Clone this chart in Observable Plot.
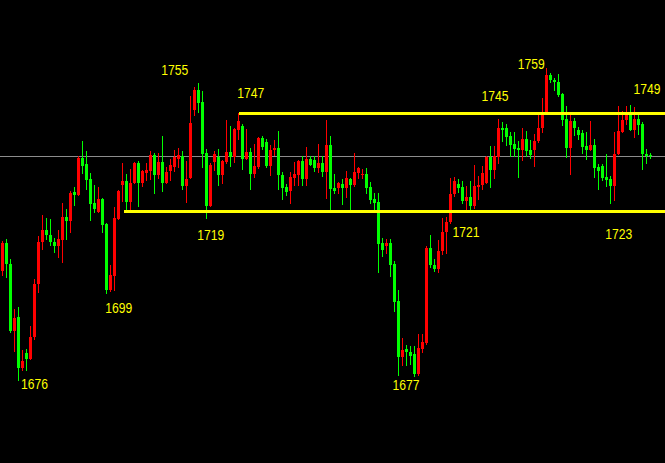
<!DOCTYPE html>
<html>
<head>
<meta charset="utf-8">
<script src="https://cdn.jsdelivr.net/npm/d3@7"></script>
<script src="https://cdn.jsdelivr.net/npm/@observablehq/plot@0.6"></script>
<style>
html, body { margin: 0; padding: 0; background: #000; overflow: hidden; }
#chart svg { display: block; }
</style>
</head>
<body>
<div id="chart"></div>
<script>
// OHLC values, one per candle (left to right)
const open = [1705.1,1712.6,1707.0,1689.2,1692.9,1679.4,1683.4,1681.8,1687.6,1701.7,
1712.9,1716.0,1714.7,1712.9,1711.8,1713.4,1719.5,1718.4,1726.1,1725.3,
1735.1,1733.5,1729.5,1723.2,1720.8,1724.2,1717.6,1700.1,1703.9,1719.0,
1728.0,1729.0,1723.5,1728.5,1733.8,1728.5,1731.1,1731.7,1735.9,1730.6,
1734.0,1728.5,1731.7,1732.7,1734.8,1735.6,1727.7,1729.8,1747.8,1753.1,
1749.9,1736.4,1722.4,1734.0,1735.4,1730.6,1734.0,1736.7,1735.4,1742.5,
1743.6,1734.8,1736.7,1730.9,1732.7,1740.4,1739.4,1733.0,1737.2,1737.8,
1730.6,1727.4,1726.4,1729.8,1730.6,1734.3,1729.5,1734.8,1734.6,1732.5,
1733.8,1731.4,1738.6,1727.2,1727.2,1728.2,1727.2,1729.5,1728.0,1731.1,
1730.6,1730.9,1727.4,1724.2,1723.5,1712.6,1711.8,1712.6,1707.0,1697.2,
1682.3,1684.4,1683.6,1683.1,1677.9,1684.4,1686.0,1711.2,1706.8,1705.7,
1710.5,1715.5,1718.1,1725.6,1728.2,1727.4,1723.7,1724.8,1722.4,1727.4,
1728.0,1728.5,1735.4,1731.9,1735.4,1743.1,1743.1,1741.0,1738.8,1737.8,
1737.2,1740.2,1737.2,1737.2,1739.6,1743.1,1747.1,1757.1,1755.8,1755.3,
1752.1,1745.5,1737.8,1744.9,1742.5,1741.8,1738.3,1737.2,1738.6,1732.7,
1733.0,1730.1,1729.5,1727.7,1736.2,1742.0,1745.2,1746.5,1742.5,1745.5,
1744.1,1736.2,1736.0];
const high = [1713.1,1713.6,1708.3,1695.0,1695.6,1684.2,1684.4,1690.5,1703.0,1714.4,
1720.0,1719.2,1718.9,1713.9,1716.0,1723.2,1721.6,1726.4,1727.4,1735.6,
1739.6,1737.0,1731.1,1728.0,1727.4,1724.5,1717.8,1706.7,1722.1,1726.6,
1733.8,1730.9,1732.2,1734.0,1734.3,1731.9,1733.8,1737.0,1736.4,1736.4,
1740.9,1732.7,1734.8,1737.2,1737.8,1737.0,1734.3,1751.5,1753.9,1755.0,
1752.9,1737.5,1733.8,1737.0,1737.5,1734.6,1745.2,1743.6,1743.1,1747.0,
1744.1,1742.8,1737.8,1738.8,1740.7,1740.9,1740.2,1738.6,1739.9,1742.3,
1731.4,1728.2,1731.4,1734.0,1734.6,1735.6,1738.0,1735.6,1735.6,1738.8,
1735.6,1745.2,1740.9,1730.9,1728.7,1729.5,1731.7,1729.8,1736.4,1732.7,
1732.2,1732.5,1728.7,1725.9,1725.9,1713.9,1713.6,1713.6,1707.8,1700.1,
1687.4,1685.5,1685.2,1685.2,1688.4,1688.4,1711.8,1714.7,1708.3,1713.4,
1719.2,1719.5,1729.8,1730.1,1729.5,1729.0,1727.7,1729.0,1733.2,1730.4,
1733.0,1735.6,1738.3,1738.3,1745.5,1744.6,1744.1,1742.0,1742.0,1739.6,
1743.1,1742.3,1739.9,1741.5,1746.5,1751.0,1759.0,1757.7,1756.3,1757.4,
1752.3,1748.9,1746.5,1745.7,1743.3,1742.5,1742.0,1744.9,1740.2,1733.5,
1733.5,1736.2,1730.4,1742.0,1748.9,1747.6,1748.9,1749.2,1748.6,1746.5,
1744.6,1737.5,1736.4];
const low = [1703.8,1703.3,1688.7,1683.6,1676.0,1678.6,1678.6,1681.6,1686.8,1699.3,
1710.7,1713.4,1711.8,1710.0,1708.6,1707.3,1713.4,1715.2,1722.4,1725.1,
1730.9,1726.6,1718.4,1720.5,1720.4,1715.2,1699.0,1699.6,1699.9,1718.7,
1723.5,1721.3,1721.3,1728.2,1722.1,1727.4,1729.0,1729.3,1725.6,1729.5,
1726.1,1728.2,1729.0,1731.4,1732.5,1726.6,1723.2,1729.5,1746.2,1747.0,
1732.5,1719.0,1722.2,1731.7,1727.7,1728.2,1733.5,1732.7,1733.8,1739.9,
1731.9,1734.6,1726.6,1729.8,1732.2,1737.2,1732.5,1730.4,1735.6,1726.6,
1724.0,1725.1,1722.9,1727.7,1727.7,1727.7,1727.7,1733.0,1731.4,1731.1,
1730.1,1724.2,1721.3,1725.6,1725.6,1722.7,1724.5,1721.3,1727.4,1729.5,
1729.5,1725.6,1722.9,1721.3,1704.6,1708.9,1709.6,1703.6,1694.3,1677.3,
1680.0,1680.0,1680.3,1677.0,1677.3,1683.4,1685.5,1705.9,1704.9,1704.6,
1709.4,1709.6,1717.6,1724.8,1725.9,1722.9,1721.3,1721.3,1721.6,1724.0,
1726.6,1728.3,1727.2,1729.5,1733.5,1739.4,1738.3,1735.4,1735.4,1729.8,
1734.3,1735.4,1734.8,1732.7,1739.1,1741.8,1746.9,1755.0,1752.9,1751.3,
1743.6,1735.1,1730.6,1740.9,1739.9,1736.2,1734.6,1737.0,1729.8,1726.6,
1729.0,1727.4,1723.0,1723.7,1736.0,1741.8,1743.9,1742.3,1740.4,1741.2,
1731.9,1733.5,1734.8];
const close = [1712.6,1707.0,1689.2,1692.7,1679.4,1681.3,1681.8,1687.6,1701.7,1712.9,
1716.0,1714.7,1712.9,1711.8,1713.6,1719.5,1718.4,1725.8,1725.3,1735.1,
1733.0,1729.3,1722.9,1721.6,1724.2,1717.4,1700.1,1704.1,1719.2,1726.4,
1729.0,1723.5,1728.5,1733.8,1728.5,1731.7,1731.9,1735.9,1730.6,1734.0,
1728.5,1731.4,1733.2,1735.4,1735.9,1727.7,1729.5,1744.4,1753.1,1749.7,
1736.2,1722.4,1733.2,1736.2,1730.6,1734.3,1736.7,1735.4,1742.8,1744.9,
1734.8,1736.7,1730.9,1733.0,1740.4,1738.0,1733.0,1737.2,1737.8,1730.6,
1727.2,1726.1,1730.1,1730.9,1734.3,1729.5,1734.8,1733.2,1732.5,1733.8,
1731.4,1738.6,1726.9,1726.4,1728.5,1727.2,1729.8,1728.0,1731.4,1732.5,
1730.9,1727.2,1724.0,1723.2,1712.3,1710.7,1712.6,1706.8,1696.9,1682.3,
1684.2,1683.6,1682.7,1677.9,1684.8,1686.3,1711.2,1706.8,1705.7,1710.5,
1715.5,1718.1,1725.6,1729.0,1727.2,1723.7,1724.8,1722.4,1727.7,1728.0,
1731.1,1735.4,1731.9,1735.6,1743.1,1742.5,1740.7,1738.6,1737.5,1737.2,
1740.2,1737.0,1735.9,1739.6,1743.1,1747.1,1757.1,1755.8,1755.3,1751.8,
1745.2,1737.8,1744.9,1743.1,1741.2,1738.0,1737.2,1738.6,1732.5,1731.7,
1729.8,1729.3,1727.7,1736.2,1742.3,1745.2,1746.5,1742.5,1745.5,1743.9,
1736.2,1735.6,1735.6];

// Horizontal support / resistance levels and the candle index where each starts
const levelPrices = [1747, 1721];
const levelStart = [59.2, 30.4];

// Price annotations: text, candle index and price level where each is placed
const labelTexts = ["1676", "1699", "1719", "1755", "1747", "1745", "1759", "1749", "1721", "1723", "1677"];
const labelIndex = [8.0, 29.05, 52.05, 43.05, 62.05, 123.1, 132.2, 161.1, 115.9, 154.05, 100.9];
const labelPrice = [1675.3, 1695.3, 1714.7, 1758.4, 1752.3, 1751.5, 1760.0, 1753.4, 1715.5, 1714.9, 1675.1];

const n = open.length;
const candles = d3.range(n).map(i => ({
  i, o: open[i], h: high[i], l: low[i], c: close[i], up: close[i] > open[i]
}));
const levels = levelPrices.map((p, k) => ({p, start: levelStart[k]}));
const labels = labelTexts.map((t, k) => ({t, i: labelIndex[k], p: labelPrice[k]}));
const lastClose = close[n - 1];
const candleColor = d => d.up ? "#ff0000" : "#00ff00";

const chart = Plot.plot({
  width: 665,
  height: 463,
  marginTop: 0,
  marginBottom: 0,
  marginLeft: 2,
  marginRight: 15,
  style: {background: "#000", overflow: "visible"},
  x: {domain: [0, n - 1], axis: null},
  y: {domain: [1654.2, 1777], axis: null},
  marks: [
    Plot.ruleY([lastClose], {y: d => d, x1: () => -1, x2: () => n + 3, stroke: "#8c8c8c", strokeWidth: 1, shapeRendering: "crispEdges"}),
    Plot.ruleX(candles, {x: "i", y1: "l", y2: "h", stroke: candleColor, strokeWidth: 1, shapeRendering: "crispEdges"}),
    Plot.ruleX(candles, {x: "i", y1: "o", y2: "c", stroke: candleColor, strokeWidth: 3, shapeRendering: "crispEdges"}),
    Plot.ruleY(levels, {y: "p", x1: "start", x2: () => n + 3, stroke: "#ffff00", strokeWidth: 3, shapeRendering: "crispEdges"}),
    Plot.text(labels, {
      x: "i", y: "p", text: "t", fill: "#ffff00",
      fontSize: 15, fontFamily: "'Liberation Sans', Arial, sans-serif",
      textAnchor: "middle", lineAnchor: "middle"
    })
  ]
});
// narrow the annotation glyphs to the reference's condensed width
d3.select(chart).selectAll("text").attr("textLength", 27).attr("lengthAdjust", "spacingAndGlyphs");
document.getElementById("chart").appendChild(chart);
</script>
</body>
</html>
